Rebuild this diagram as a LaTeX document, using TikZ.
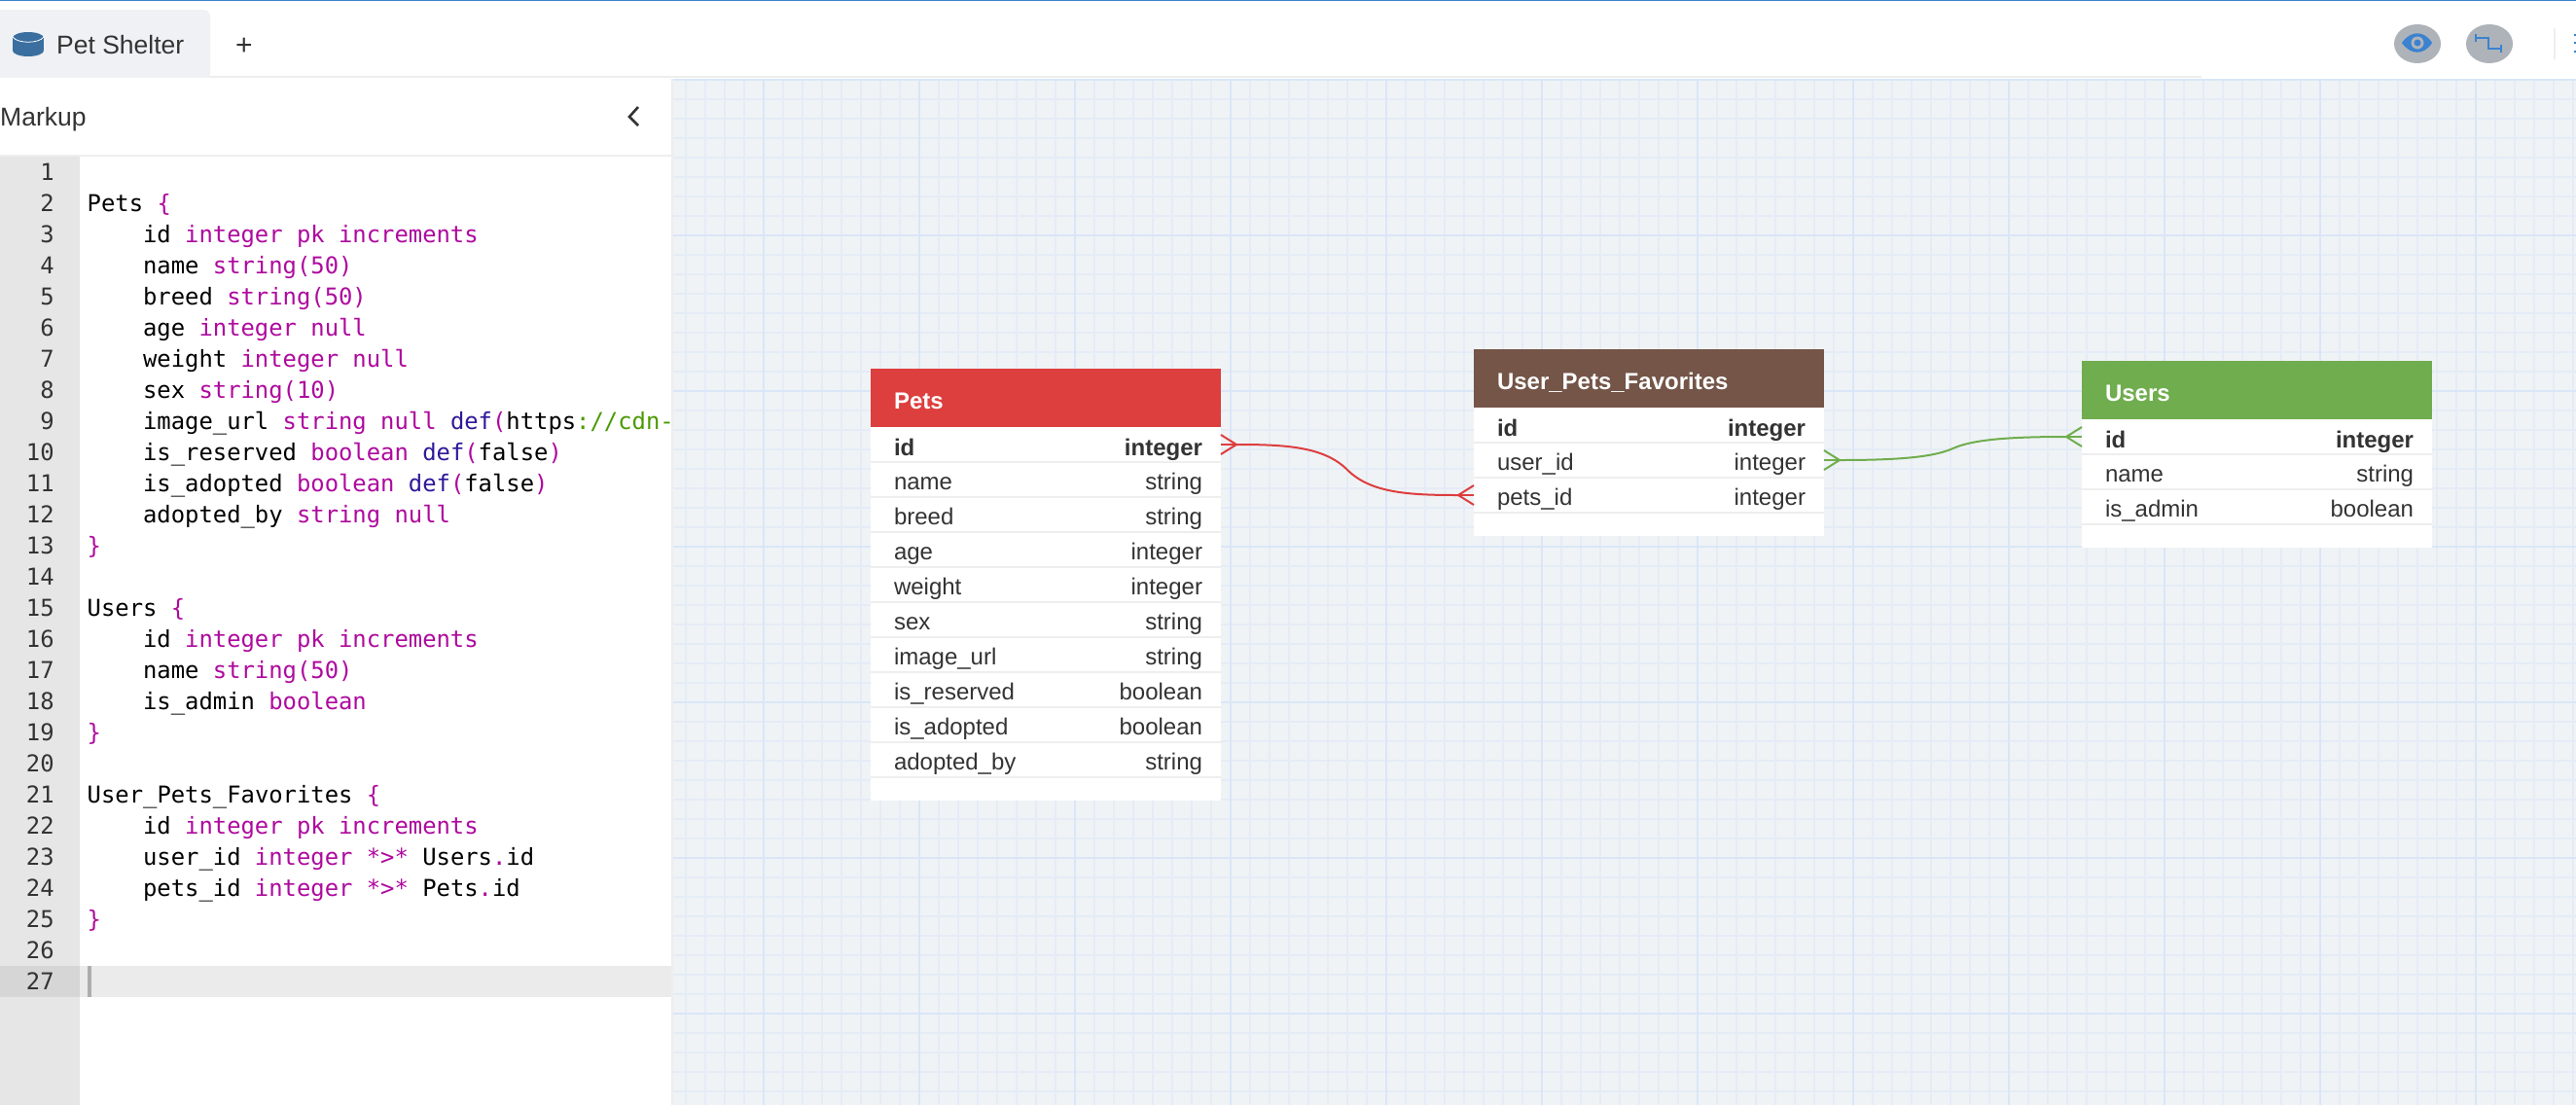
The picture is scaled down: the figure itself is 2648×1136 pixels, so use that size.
\documentclass[tikz,border=0pt]{standalone}
\usepackage{fontspec}
\setmainfont{Liberation Sans}
\newfontfamily\codefont{DejaVu Sans Mono}
\usetikzlibrary{calc, matrix, positioning}
\definecolor{codepink}{HTML}{AE0A9E}
\definecolor{codeblue}{HTML}{30189A}
\definecolor{codegreen}{HTML}{4A9A00}
\definecolor{paneline}{HTML}{EEEEEE}
\definecolor{gutter}{HTML}{E6E6E6}
\definecolor{tabfill}{HTML}{EFF1F4}
\definecolor{gridback}{HTML}{EFF3F6}
\definecolor{gridminor}{HTML}{E5ECF6}
\definecolor{gridmajor}{HTML}{DAE6F7}
\definecolor{rowtext}{HTML}{333333}
\definecolor{petsred}{HTML}{DD3E3E}
\definecolor{favbrown}{HTML}{745548}
\definecolor{usersgreen}{HTML}{70AD4E}
\definecolor{toolgray}{HTML}{AEB3B9}
\definecolor{toolblue}{HTML}{3B82D0}
\definecolor{dbblue}{HTML}{3A6F9F}
\newcommand{\kw}[1]{\textcolor{codepink}{#1}}
\newcommand{\df}[1]{\textcolor{codeblue}{#1}}
\newcommand{\ind}{\hspace*{57.4pt}}
\newcommand{\rowfont}{\fontsize{24}{24}\selectfont}
\begin{document}
\begin{tikzpicture}[x=1pt, y=-1pt,
    rowtable/.style={matrix of nodes, fill=white, inner sep=0pt, outer sep=0pt, row sep=0pt, column sep=0pt,
      nodes={font=\rowfont, text=rowtext, inner ysep=0pt, outer sep=0pt, text height=28.5pt, text depth=7.5pt},
      column 1/.style={nodes={text width=132pt, inner xsep=24pt, align=left}},
      column 2/.style={nodes={text width=142pt, inner xsep=19pt, align=right}},
      row 1/.style={nodes={font=\rowfont\bfseries, text height=29.5pt, text depth=6.5pt}}},
    tablehead/.style={font=\rowfont\bfseries, text=white, text width=312pt, align=left, inner xsep=24pt, inner ysep=0pt,
      outer sep=0pt, text height=41.5pt, text depth=18.5pt},
    tablefoot/.style={fill=white, minimum width=360pt, minimum height=24pt, inner sep=0pt, outer sep=0pt},
    rowline/.style={paneline, line width=2pt},
    uitext/.style={font=\fontsize{26.5}{26.5}\selectfont, text=rowtext, inner sep=0pt, anchor=base west},
    codetable/.style={matrix of nodes, nodes in empty cells, inner sep=0pt, outer sep=0pt, row sep=0pt, column sep=34pt,
      nodes={font=\codefont\fontsize{23.85}{24}\selectfont, inner sep=0pt, text height=24pt, text depth=8pt, anchor=base west},
      column 1/.style={nodes={anchor=base east, text=rowtext}}},
    petsline/.style={petsred, line width=2pt},
    usersline/.style={usersgreen, line width=2pt}]
  \useasboundingbox (0,0) rectangle (2648,1136);
  \fill[white] (0,0) rectangle (2648,1136);
  \fill[toolblue] (0,0) rectangle (2648,1);

  % tab bar
  \fill[paneline] (0,78) rectangle (2263,80);
  \fill[tabfill, rounded corners=7pt] (-10,10) rectangle (216,100);
  \fill[white] (0,80) rectangle (690,100);
  \fill[dbblue] (13,39) rectangle (45,52);
  \fill[dbblue] (29,39) ellipse [x radius=16, y radius=6];
  \fill[dbblue] (29,52) ellipse [x radius=16, y radius=6];
  \draw[white, line width=0.8pt] (13,38) .. controls (18,45) and (40,45) .. (45,38);
  \node[uitext] (tabname) at (58,55) {Pet Shelter};
  \node[font=\fontsize{30}{30}\selectfont, text=rowtext, inner sep=0pt] (tabplus) at (251,47.5) {+};

  % markup panel
  \fill[gutter] (0,161) rectangle (82,1136);
  \fill[paneline] (0,159) rectangle (690,161);
  \fill[black!16] (0,993) rectangle (82,1025);
  \fill[black!8] (82,993) rectangle (690,1025);
  \fill[black!32] (90,993) rectangle (94,1025);
  \node[uitext] (markup) at (0,129) {Markup};
  \draw[rowtext, line width=2.6pt] (656,110) -- (647,120) -- (656,129);
  \matrix (code) [codetable, anchor=north west] at (27,161.5) {
    1 & \\
    2 & Pets \kw{\{} \\
    3 & \ind id \kw{integer pk increments} \\
    4 & \ind name \kw{string(50)} \\
    5 & \ind breed \kw{string(50)} \\
    6 & \ind age \kw{integer null} \\
    7 & \ind weight \kw{integer null} \\
    8 & \ind sex \kw{string(10)} \\
    9 & \ind image\_url \kw{string null} \df{def}\kw{(}https\textcolor{codegreen}{://cdn-} \\
    10 & \ind is\_reserved \kw{boolean} \df{def}\kw{(}false\kw{)} \\
    11 & \ind is\_adopted \kw{boolean} \df{def}\kw{(}false\kw{)} \\
    12 & \ind adopted\_by \kw{string null} \\
    13 & \kw{\}} \\
    14 & \\
    15 & Users \kw{\{} \\
    16 & \ind id \kw{integer pk increments} \\
    17 & \ind name \kw{string(50)} \\
    18 & \ind is\_admin \kw{boolean} \\
    19 & \kw{\}} \\
    20 & \\
    21 & User\_Pets\_Favorites \kw{\{} \\
    22 & \ind id \kw{integer pk increments} \\
    23 & \ind user\_id \kw{integer *>*} Users\kw{.}id \\
    24 & \ind pets\_id \kw{integer *>*} Pets\kw{.}id \\
    25 & \kw{\}} \\
    26 & \\
    27 & \\
  };

  % grid
  \fill[gridback] (692,81) rectangle (2648,1136);
  \fill[paneline] (690,81) rectangle (692,1136);
  \foreach \x in {705,725,...,2645}
    \draw[gridminor, line width=1.2pt] (\x,81) -- (\x,1136);
  \foreach \y in {82,102,...,1122}
    \draw[gridminor, line width=1.2pt] (692,\y) -- (2648,\y);
  \foreach \x in {785,945,...,2625}
    \draw[gridmajor, line width=1.6pt] (\x,81) -- (\x,1136);
  \foreach \y in {82,242,...,1042}
    \draw[gridmajor, line width=1.6pt] (692,\y) -- (2648,\y);

  % toolbar
  \fill[toolgray] (2485,45) ellipse [x radius=24, y radius=20];
  \fill[toolgray] (2559,45) ellipse [x radius=24, y radius=20];
  \fill[toolblue] (2469,44) .. controls (2478,31) and (2492,31) .. (2500,44) .. controls (2492,57) and (2478,57) .. cycle;
  \fill[toolgray] (2485,44) circle (6.5);
  \fill[toolblue] (2485,44) circle (3.5);
  \draw[toolblue, line width=2.4pt] (2545,39) -- (2558,39) -- (2558,50) -- (2571,50);
  \draw[toolblue, line width=2.4pt] (2545,35) -- (2545,43);
  \draw[toolblue, line width=2.4pt] (2571,46) -- (2571,54);
  \fill[paneline] (2625,29) rectangle (2627,61);
  \foreach \y in {35,43,52}
    \fill[toolblue] (2646,\y) rectangle (2648,\y+2);

  % tables
  \matrix (pets) [rowtable, anchor=north west] at (895,439) {
    id & integer \\
    name & string \\
    breed & string \\
    age & integer \\
    weight & integer \\
    sex & string \\
    image\_url & string \\
    is\_reserved & boolean \\
    is\_adopted & boolean \\
    adopted\_by & string \\
  };
  \node[tablehead, fill=petsred, above=0pt of pets] (pets-head) {Pets};
  \node[tablefoot, below=0pt of pets] (pets-foot) {};
  \foreach \r in {1,...,10}
    \draw[rowline] (pets-\r-1.south west) -- (pets-\r-2.south east);

  \matrix (favorites) [rowtable, anchor=north west] at (1515,419) {
    id & integer \\
    user\_id & integer \\
    pets\_id & integer \\
  };
  \node[tablehead, fill=favbrown, above=0pt of favorites] (favorites-head) {User\_Pets\_Favorites};
  \node[tablefoot, below=0pt of favorites] (favorites-foot) {};
  \foreach \r in {1,...,3}
    \draw[rowline] (favorites-\r-1.south west) -- (favorites-\r-2.south east);

  \matrix (users) [rowtable, anchor=north west] at (2140,431) {
    id & integer \\
    name & string \\
    is\_admin & boolean \\
  };
  \node[tablehead, fill=usersgreen, above=0pt of users] (users-head) {Users};
  \node[tablefoot, below=0pt of users] (users-foot) {};
  \foreach \r in {1,...,3}
    \draw[rowline] (users-\r-1.south west) -- (users-\r-2.south east);

  % relations
  \coordinate (pets-tip) at ([xshift=16pt]pets-1-2.east);
  \coordinate (petsid-tip) at ([xshift=-16pt]favorites-3-1.west);
  \coordinate (userid-tip) at ([xshift=16pt]favorites-2-2.east);
  \coordinate (users-tip) at ([xshift=-16pt]users-1-1.west);
  \coordinate (pets-mid) at ($(pets-tip)!0.5!(petsid-tip)$);
  \coordinate (users-mid) at ($(userid-tip)!0.5!(users-tip)$);
  \draw[petsline] (pets-tip) .. controls +(50,0) and +(-24,-24) .. (pets-mid)
    .. controls +(24,24) and +(-50,0) .. (petsid-tip);
  \draw[usersline] (userid-tip) .. controls +(60,0) and +(-20,9) .. (users-mid)
    .. controls +(20,-9) and +(-60,0) .. (users-tip);
  \foreach \d in {-10,0,10} {
    \draw[petsline] (pets-tip) -- ([yshift=\d pt]pets-1-2.east);
    \draw[petsline] (petsid-tip) -- ([yshift=\d pt]favorites-3-1.west);
    \draw[usersline] (userid-tip) -- ([yshift=\d pt]favorites-2-2.east);
    \draw[usersline] (users-tip) -- ([yshift=\d pt]users-1-1.west);
  }
\end{tikzpicture}
\end{document}
